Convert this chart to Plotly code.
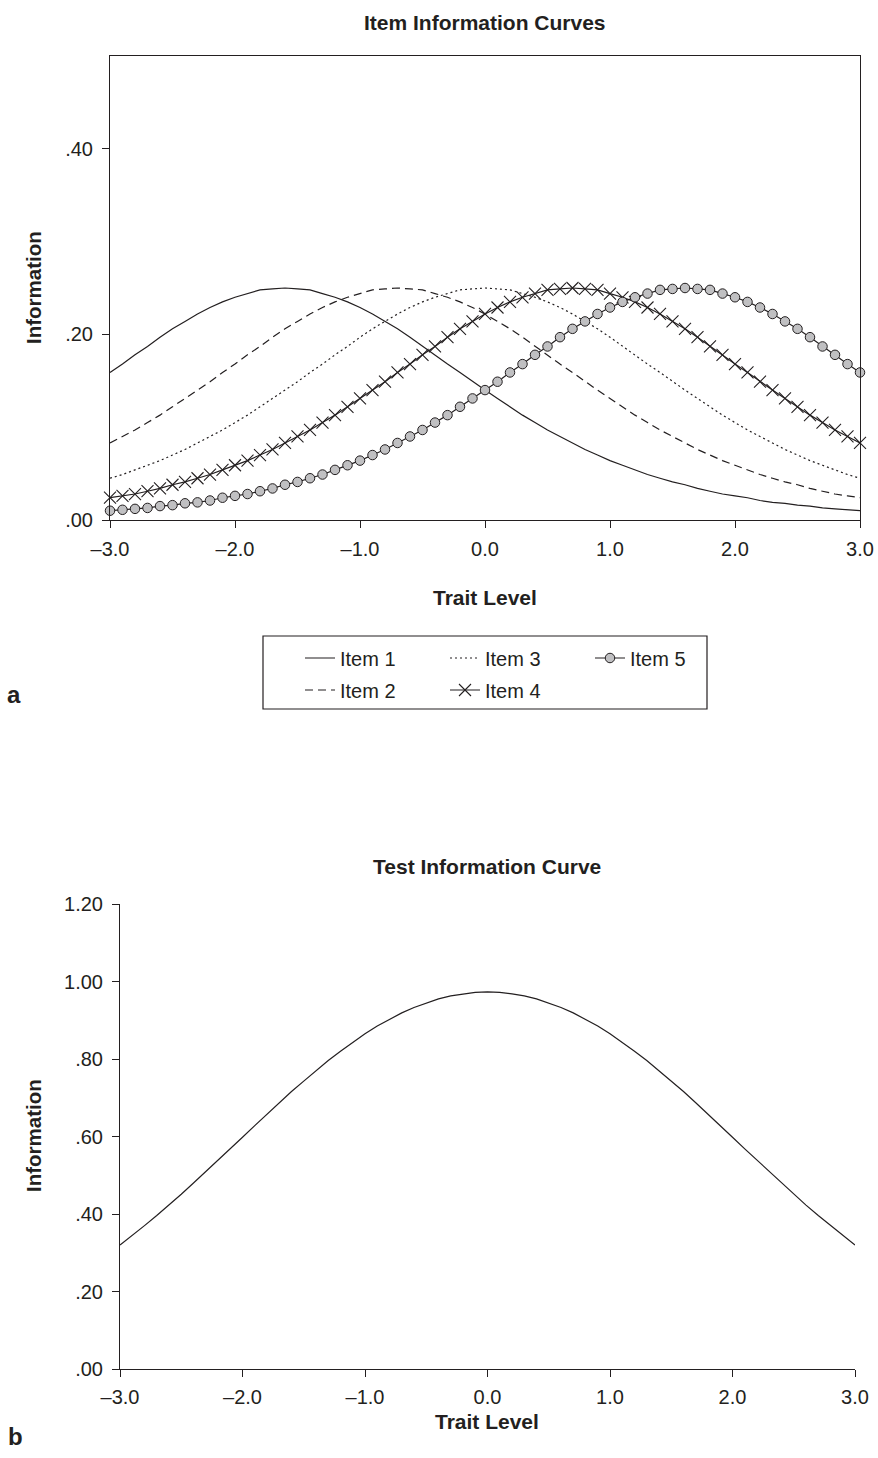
import plotly.graph_objects as go

# ---------------- data ----------------
trait = [-3.0, -2.9, -2.8, -2.7, -2.6, -2.5, -2.4, -2.3, -2.2, -2.1,
         -2.0, -1.9, -1.8, -1.7, -1.6, -1.5, -1.4, -1.3, -1.2, -1.1,
         -1.0, -0.9, -0.8, -0.7, -0.6, -0.5, -0.4, -0.3, -0.2, -0.1,
         0.0, 0.1, 0.2, 0.3, 0.4, 0.5, 0.6, 0.7, 0.8, 0.9,
         1.0, 1.1, 1.2, 1.3, 1.4, 1.5, 1.6, 1.7, 1.8, 1.9,
         2.0, 2.1, 2.2, 2.3, 2.4, 2.5, 2.6, 2.7, 2.8, 2.9, 3.0]

item1 = [.159, .168, .178, .187, .197, .206, .214, .222, .229, .235,
         .240, .244, .248, .249, .250, .249, .248, .244, .240, .235,
         .229, .222, .214, .206, .197, .187, .178, .168, .159, .149,
         .140, .131, .122, .113, .105, .097, .090, .083, .076, .070,
         .064, .059, .054, .049, .045, .041, .038, .034, .031, .028,
         .026, .024, .021, .019, .018, .016, .015, .013, .012, .011, .010]

item2 = [.083, .090, .097, .105, .113, .122, .131, .140, .149, .159,
         .168, .178, .187, .197, .206, .214, .222, .229, .235, .240,
         .244, .248, .249, .250, .249, .248, .244, .240, .235, .229,
         .222, .214, .206, .197, .187, .178, .168, .159, .149, .140,
         .131, .122, .113, .105, .097, .090, .083, .076, .070, .064,
         .059, .054, .049, .045, .041, .038, .034, .031, .028, .026, .024]

item3 = [.045, .049, .054, .059, .064, .070, .076, .083, .090, .097,
         .105, .113, .122, .131, .140, .149, .159, .168, .178, .187,
         .197, .206, .214, .222, .229, .235, .240, .244, .248, .249,
         .250, .249, .248, .244, .240, .235, .229, .222, .214, .206,
         .197, .187, .178, .168, .159, .149, .140, .131, .122, .113,
         .105, .097, .090, .083, .076, .070, .064, .059, .054, .049, .045]

item4 = [.024, .026, .028, .031, .034, .038, .041, .045, .049, .054,
         .059, .064, .070, .076, .083, .090, .097, .105, .113, .122,
         .131, .140, .149, .159, .168, .178, .187, .197, .206, .214,
         .222, .229, .235, .240, .244, .248, .249, .250, .249, .248,
         .244, .240, .235, .229, .222, .214, .206, .197, .187, .178,
         .168, .159, .149, .140, .131, .122, .113, .105, .097, .090, .083]

item5 = [.010, .011, .012, .013, .015, .016, .018, .019, .021, .024,
         .026, .028, .031, .034, .038, .041, .045, .049, .054, .059,
         .064, .070, .076, .083, .090, .097, .105, .113, .122, .131,
         .140, .149, .159, .168, .178, .187, .197, .206, .214, .222,
         .229, .235, .240, .244, .248, .249, .250, .249, .248, .244,
         .240, .235, .229, .222, .214, .206, .197, .187, .178, .168, .159]

test_info = [.320, .344, .370, .396, .423, .451, .480, .509, .539, .568,
             .598, .628, .658, .687, .716, .743, .770, .796, .820, .843,
             .865, .885, .903, .919, .933, .945, .955, .963, .968, .972,
             .973, .972, .968, .963, .955, .945, .933, .919, .903, .885,
             .865, .843, .820, .796, .770, .743, .716, .687, .658, .628,
             .598, .568, .539, .509, .480, .451, .423, .396, .370, .344, .320]

x_ticks = [-3, -2, -1, 0, 1, 2, 3]
x_ticktext = ["–3.0", "–2.0", "–1.0", "0.0", "1.0", "2.0", "3.0"]
y1_ticks = [0, 0.2, 0.4]
y1_ticktext = [".00", ".20", ".40"]
y2_ticks = [0, 0.2, 0.4, 0.6, 0.8, 1.0, 1.2]
y2_ticktext = [".00", ".20", ".40", ".60", ".80", "1.00", "1.20"]

# ---------------- styling ----------------
W, H = 878, 1458
INK = "#231f20"
FONT = "Liberation Sans, Arial, Helvetica, sans-serif"
LW = 1.2


def px(x):
    return x / W


def py(y):
    return 1 - y / H


fig = go.Figure()

fig.add_trace(go.Scatter(x=trait, y=item1, mode="lines", name="Item 1",
                         line=dict(color=INK, width=LW), legend="legend",
                         xaxis="x", yaxis="y"))
fig.add_trace(go.Scatter(x=trait, y=item3, mode="lines", name="Item 3",
                         line=dict(color=INK, width=LW, dash="2px,3px"), legend="legend",
                         xaxis="x", yaxis="y"))
fig.add_trace(go.Scatter(x=trait, y=item2, mode="lines", name="Item 2",
                         line=dict(color=INK, width=LW, dash="8px,5px"), legend="legend2",
                         xaxis="x", yaxis="y"))
fig.add_trace(go.Scatter(x=trait, y=item4, mode="lines+markers", name="Item 4",
                         line=dict(color=INK, width=LW),
                         marker=dict(symbol="x-thin-open", size=12,
                                     line=dict(color=INK, width=1.1)),
                         cliponaxis=False, legend="legend2",
                         xaxis="x", yaxis="y"))
fig.add_trace(go.Scatter(x=trait, y=item5, mode="lines+markers", name="Item 5",
                         line=dict(color=INK, width=LW),
                         marker=dict(symbol="circle", size=9.5, color="#c0c0c2",
                                     line=dict(color=INK, width=1)),
                         cliponaxis=False, legend="legend",
                         xaxis="x", yaxis="y"))

fig.add_trace(go.Scatter(x=trait, y=test_info, mode="lines", name="Test",
                         line=dict(color=INK, width=LW), showlegend=False,
                         xaxis="x2", yaxis="y2"))

tickfont = dict(family=FONT, size=20, color=INK)
axis_common = dict(ticks="outside", ticklen=7, tickwidth=1, tickcolor=INK,
                   showline=True, linecolor=INK, linewidth=1, showgrid=False,
                   zeroline=False, tickfont=tickfont, automargin=False)

fig.update_layout(
    template="none",
    width=W, height=H,
    margin=dict(l=0, r=0, t=0, b=0, pad=0, autoexpand=False),
    paper_bgcolor="white", plot_bgcolor="white",
    font=dict(family=FONT, color=INK),
    xaxis=dict(domain=[px(110), px(860)], range=[-3, 3], anchor="y",
               tickvals=x_ticks, ticktext=x_ticktext, mirror=True,
               ticklabelstandoff=4, **axis_common),
    yaxis=dict(domain=[py(520), py(56)], range=[0, 0.5], anchor="x",
               tickvals=y1_ticks, ticktext=y1_ticktext, mirror=True,
               ticklabelstandoff=5, **axis_common),
    xaxis2=dict(domain=[px(120), px(855)], range=[-3, 3], anchor="y2",
                tickvals=x_ticks, ticktext=x_ticktext,
                ticklabelstandoff=3, **axis_common),
    yaxis2=dict(domain=[py(1369), py(904)], range=[0, 1.2], anchor="x2",
                tickvals=y2_ticks, ticktext=y2_ticktext,
                ticklabelstandoff=5, **axis_common),
    legend=dict(orientation="h", x=px(300), y=py(658), xanchor="left",
                yanchor="middle", entrywidth=100, entrywidthmode="pixels",
                font=dict(family=FONT, size=20, color=INK),
                bgcolor="rgba(0,0,0,0)", borderwidth=0, traceorder="normal"),
    legend2=dict(orientation="h", x=px(300), y=py(690), xanchor="left",
                 yanchor="middle", entrywidth=100, entrywidthmode="pixels",
                 font=dict(family=FONT, size=20, color=INK),
                 bgcolor="rgba(0,0,0,0)", borderwidth=0, traceorder="normal"),
    shapes=[dict(type="rect", xref="paper", yref="paper",
                 x0=px(263), x1=px(707), y0=py(709), y1=py(636),
                 line=dict(color=INK, width=1.2), fillcolor="rgba(0,0,0,0)")],
)


def label(text, x, y, size=20, angle=0):
    fig.add_annotation(text="<b>%s</b>" % text, x=px(x), y=py(y), xref="paper",
                       yref="paper", showarrow=False, xanchor="center",
                       yanchor="middle", textangle=angle,
                       font=dict(family=FONT, size=size, color=INK))


label("Item Information Curves", 485, 23, 21)
label("Trait Level", 485, 597, 21)
label("Information", 33, 288, 20.5, -90)
label("a", 14, 694, 24)
label("Test Information Curve", 487, 866, 21)
label("Trait Level", 487, 1421, 21)
label("Information", 33, 1136, 20.5, -90)
label("b", 15, 1436, 24)

fig.write_html(
    "out.html",
    config={"displayModeBar": False},
    post_script="document.body.style.margin='0';"
                "document.documentElement.style.overflow='hidden';",
)
